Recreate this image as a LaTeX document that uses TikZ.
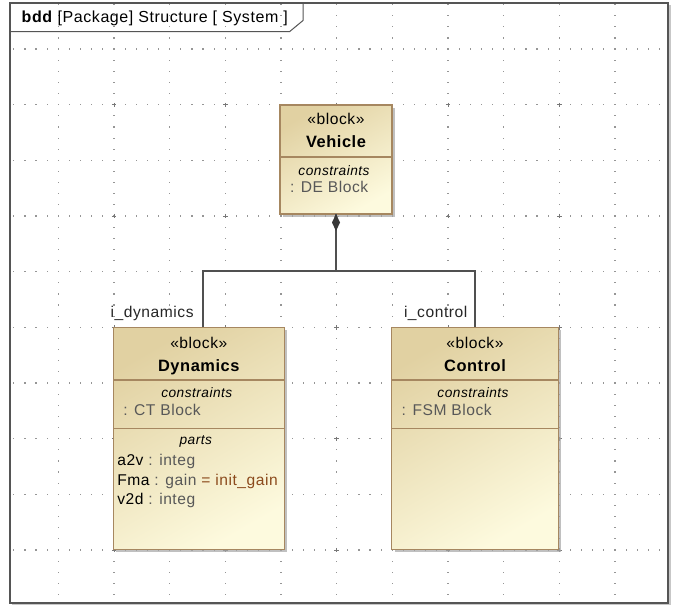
\documentclass[tikz,border=0pt]{standalone}
\usepackage{fontspec}
\setmainfont{Liberation Sans}
\newfontfamily\dfont[LetterSpace=3.5]{Liberation Sans}
\usetikzlibrary{calc,shadows}
\definecolor{blkTop}{RGB}{225,209,162}
\definecolor{blkBot}{RGB}{253,250,222}
\definecolor{blkLine}{RGB}{166,135,96}
\definecolor{gridc}{RGB}{150,150,150}
\definecolor{frameC}{RGB}{85,85,85}
\definecolor{connC}{RGB}{80,80,80}
\definecolor{typeC}{RGB}{88,88,88}
\definecolor{valC}{RGB}{139,74,28}
\tikzset{
  blockbox/.style={draw=blkLine, line width=1.5pt, top color=blkTop, bottom color=blkBot, shading angle=30,
    inner sep=0pt, outer sep=0pt,
    drop shadow={shadow xshift=3pt, shadow yshift=-3pt, fill=black!35, opacity=0.7}},
  sepline/.style={draw=blkLine, line width=1.5pt},
  conn/.style={draw=connC, line width=1.3pt},
  txt/.style={inner sep=0pt, outer sep=0pt, anchor=base, font=\dfont\fontsize{15.6}{18}\selectfont},
  txtl/.style={txt, anchor=base west},
  bname/.style={txt, font=\dfont\bfseries\fontsize{16.4}{19}\selectfont},
  comp/.style={txt, font=\dfont\itshape\fontsize{13.7}{16}\selectfont},
  griddot/.style={fill=gridc},
}
\begin{document}
\begin{tikzpicture}[x=1pt,y=-1pt]
\useasboundingbox (0,0) rectangle (678,606);
\fill[white] (0,0) rectangle (678,606);
% grid rows
\foreach \j in {0,...,9}{
  \pgfmathsetmacro\yy{49+55.667*\j}
  \foreach \i in {0,...,58}{
    \fill[griddot] ({13.8+11.133*\i-0.6},{\yy-0.6}) rectangle ++(1.2,1.2);
  }
}
% grid columns
\foreach \i in {0,...,10}{
  \pgfmathsetmacro\xx{58.3+55.667*\i}
  \foreach \k in {0,...,53}{
    \fill[griddot] ({\xx-0.6},{4.5+11.133*\k-0.6}) rectangle ++(1.2,1.2);
  }
}
% grid crosses
\foreach \xx in {114,225.3,336.6,448,559.3}{
  \foreach \yy in {104.7,216,327.3,438.7,550}{
    \draw[gridc!80!black, line width=1pt] (\xx-2.2,\yy) -- (\xx+2.2,\yy) (\xx,\yy-2.2) -- (\xx,\yy+2.2);
  }
}
% frame
\draw[black!22, line width=1.5pt] (11.8,604.6) -- (669.8,604.6) -- (669.8,4.8);
\draw[frameC, line width=1.5pt] (10,3) rectangle (668,603);
\draw[frameC, line width=1pt] (10,31.7) -- (289.5,31.7) -- (303,20.5) -- (303,3);
\node[txtl, font=\dfont\fontsize{16}{19}\selectfont] (title) at (21.7,22) {\textbf{bdd} [Package] Structure [ System ]};

% blocks
\node[blockbox, minimum width=112pt, minimum height=109pt] (veh) at (336,159.5) {};
\node[blockbox, minimum width=171pt, minimum height=222pt] (dyn) at (198.8,438.3) {};
\node[blockbox, minimum width=166.6pt, minimum height=222pt] (ctl) at (475,438.3) {};

% compartments
\draw[sepline] ($(veh.north west)+(0,52)$) -- ($(veh.north east)+(0,52)$);
\draw[sepline] ($(dyn.north west)+(0,52.7)$) -- ($(dyn.north east)+(0,52.7)$);
\draw[sepline] ($(dyn.north west)+(0,101.4)$) -- ($(dyn.north east)+(0,101.4)$);
\draw[sepline] ($(ctl.north west)+(0,52.7)$) -- ($(ctl.north east)+(0,52.7)$);
\draw[sepline] ($(ctl.north west)+(0,101.4)$) -- ($(ctl.north east)+(0,101.4)$);

% Vehicle texts
\node[txt] (vehS) at ($(veh.north)+(0,19.5)$) {«block»};
\node[bname] (vehN) at ($(veh.north)+(0,42.7)$) {Vehicle};
\node[comp] (vehC) at ($(veh.north)+(-2,70)$) {constraints};
\node[txtl, text=typeC] (vehE) at ($(veh.north west)+(10,87)$) {: DE Block};

% Dynamics texts
\node[txt] (dynS) at ($(dyn.north)+(0,21)$) {«block»};
\node[bname] (dynN) at ($(dyn.north)+(0,44.2)$) {Dynamics};
\node[comp] (dynC) at ($(dyn.north)+(-2,69.8)$) {constraints};
\node[txtl, text=typeC] (dynE) at ($(dyn.north west)+(10,88.2)$) {: CT Block};
\node[comp] (dynP) at ($(dyn.north)+(-3,116.8)$) {parts};
\node[txtl] (p1) at ($(dyn.north west)+(4,138.2)$) {a2v \textcolor{typeC}{: integ}};
\node[txtl] (p2) at ($(dyn.north west)+(4,157.7)$) {Fma \textcolor{typeC}{: gain} \textcolor{valC}{= init\_gain}};
\node[txtl] (p3) at ($(dyn.north west)+(4,176.9)$) {v2d \textcolor{typeC}{: integ}};

% Control texts
\node[txt] (ctlS) at ($(ctl.north)+(0,21)$) {«block»};
\node[bname] (ctlN) at ($(ctl.north)+(0,44.2)$) {Control};
\node[comp] (ctlC) at ($(ctl.north)+(-2,69.8)$) {constraints};
\node[txtl, text=typeC] (ctlE) at ($(ctl.north west)+(10,88.2)$) {: FSM Block};

% composition connector
\coordinate (jn) at ($(veh.south)+(0,57)$);
\coordinate (dynTop) at ($(dyn.north)+(4.2,0)$);
\draw[conn] (veh.south) -- (jn);
\draw[conn] (jn) -| (dynTop);
\draw[conn] (jn) -| (ctl.north);
\fill[connC!70!black] (veh.south) -- ++(4,8.5) -- ++(-4,8.5) -- ++(-4,-8.5) -- cycle;

% role labels
\node[txtl, text=black!85] (rdyn) at (110.7,317.3) {i\_dynamics};
\node[txtl, text=black!85] (rctl) at (404,317.3) {i\_control};
\end{tikzpicture}
\end{document}
